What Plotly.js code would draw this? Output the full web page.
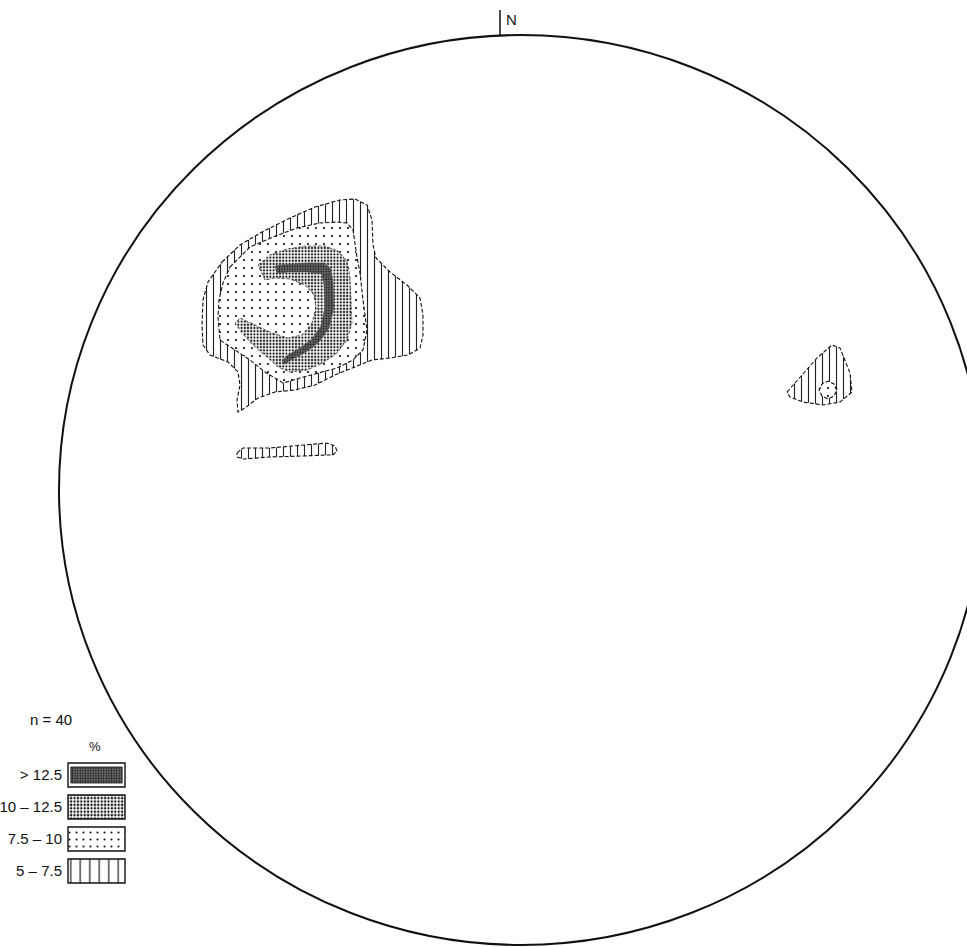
<!DOCTYPE html>
<html><head><meta charset="utf-8">
<script src="https://cdn.plot.ly/plotly-3.0.1.min.js"></script>
<style>html,body{margin:0;padding:0;background:#fff}#chart{width:967px;height:947px}</style>
</head><body><div id="chart"></div>
<script>
// Net coordinates: origin at the centre of the net, x to the east, y to the north
const sampleCount = 40;
const classLabels = ['> 12.5', '10 – 12.5', '7.5 – 10', '5 – 7.5'];

// 5 – 7.5 % contours
const zone5Main = [[-299,228],[-281,245],[-259,258],[-231,272],[-206,283],[-181,290],[-166,291],[-154,285],[-149,270],[-148,245],[-145,232],[-131,218],[-114,205],[-101,192],[-98,175],[-98,155],[-101,142],[-113,135],[-131,132],[-149,130],[-166,123],[-186,115],[-206,105],[-226,100],[-246,98],[-263,92],[-276,82],[-283,78],[-284,90],[-281,105],[-283,118],[-293,128],[-311,135],[-318,145],[-319,165],[-318,190],[-313,208]];
const zone5Blob = [[-284,37],[-278,42],[-251,42],[-218,45],[-194,47],[-186,44],[-184,39],[-188,35],[-194,35],[-218,34],[-251,33],[-278,31],[-284,33]];
const zone5East = [[266,98],[279,113],[296,132],[311,145],[319,142],[329,117],[331,98],[319,88],[302,85],[282,88],[269,93]];
// 7.5 – 10 % contours
const zone75Main = [[-291,223],[-271,243],[-248,253],[-224,262],[-201,267],[-184,268],[-174,267],[-168,260],[-164,233],[-161,217],[-158,190],[-154,160],[-158,140],[-168,130],[-184,122],[-204,117],[-221,112],[-238,107],[-256,118],[-271,130],[-286,140],[-301,150],[-303,173],[-302,190],[-298,207]];
const zone75East = [[316,100],[313,106],[307,109],[301,106],[298,100],[301,94],[307,91],[313,94]];
// 10 – 12.5 % contour
const zone10Main = [[-263,225],[-251,235],[-234,241],[-214,244],[-196,244],[-183,239],[-174,229],[-171,213],[-170,190],[-169,167],[-174,150],[-184,137],[-198,127],[-214,120],[-231,118],[-243,123],[-254,133],[-268,145],[-279,157],[-286,167],[-281,172],[-266,165],[-249,157],[-233,152],[-219,155],[-209,167],[-205,182],[-207,195],[-216,205],[-231,211],[-246,212],[-256,210]];
// > 12.5 % contour
const zone125Main = [[-246,224],[-231,226],[-214,227],[-197,227],[-190,221],[-188,207],[-187,183],[-192,162],[-202,148],[-215,138],[-228,131],[-236,126],[-239,129],[-233,135],[-221,142],[-209,151],[-200,164],[-196,183],[-197,205],[-199,216],[-214,218],[-231,218],[-244,217]];

const FONT = 'Liberation Sans, Arial, sans-serif';
const styles = {
  z5:   {shape:'|', size:7,   solidity:0.16, fg:'#222', bg:'#ffffff', line:{color:'#111', width:1.1, dash:'4px,2px'}},
  z75:  {shape:'.', size:8,   solidity:0.06, fg:'#111', bg:'#ffffff', line:{color:'#111', width:1.1, dash:'4px,2px'}},
  z10:  {shape:'.', size:3.2, solidity:0.38, fg:'#1a1a1a', bg:'#ffffff', line:{color:'#333', width:0.8, dash:'3px,2px'}},
  z125: {shape:'.', size:2.6, solidity:0.45, fg:'#1a1a1a', bg:'#7a7a7a', line:{color:'#555', width:0.6}}
};

function poly(pts, st) {
  const closed = pts.concat([pts[0]]);
  return {
    type:'scatter', mode:'lines', xaxis:'x', yaxis:'y',
    x: closed.map(p => p[0]), y: closed.map(p => p[1]),
    fill:'toself', fillcolor: st.bg,
    fillpattern:{shape:st.shape, size:st.size, solidity:st.solidity, fgcolor:st.fg, bgcolor:st.bg, fillmode:'replace'},
    line: st.line, hoverinfo:'skip', showlegend:false
  };
}

function legendBar(label, st, inset) {
  return {
    type:'bar', orientation:'h', xaxis:'x2', yaxis:'y2',
    y:[label], x:[inset ? 0.9 : 1], base:[inset ? 0.05 : 0], width:[inset ? 0.5 : 0.75],
    marker:{color:st.bg, line:{color:'#111', width: inset ? 0.8 : 1.4},
            pattern:{shape:st.shape, size:st.legendSize, solidity:st.legendSolidity, fgcolor:st.fg, bgcolor:st.bg, fillmode:'replace'}},
    hoverinfo:'skip', showlegend:false
  };
}
styles.z125.legendSize = 2.6; styles.z125.legendSolidity = 0.45;
styles.z10.legendSize = 3.4;  styles.z10.legendSolidity = 0.4;
styles.z75.legendSize = 7;    styles.z75.legendSolidity = 0.07;
styles.z5.legendSize = 9.5;   styles.z5.legendSolidity = 0.13;

const traces = [
  poly(zone5Main, styles.z5),
  poly(zone5Blob, styles.z5),
  poly(zone5East, styles.z5),
  poly(zone75Main, styles.z75),
  poly(zone75East, styles.z75),
  poly(zone10Main, styles.z10),
  poly(zone125Main, styles.z125),
  legendBar(classLabels[0], styles.z125, true),
  legendBar(classLabels[1], styles.z10, false),
  legendBar(classLabels[2], styles.z75, false),
  legendBar(classLabels[3], styles.z5, false)
];

const layout = {
  width:967, height:947, margin:{l:0, r:0, t:0, b:0},
  paper_bgcolor:'#ffffff', plot_bgcolor:'rgba(0,0,0,0)',
  showlegend:false, barmode:'overlay', bargap:0.25,
  font:{family:FONT, color:'#111'},
  xaxis:{domain:[0,1], range:[-521, 446], visible:false, fixedrange:true},
  yaxis:{domain:[0,1], range:[-457, 490], visible:false, fixedrange:true},
  xaxis2:{domain:[0.06825, 0.13133], anchor:'y2', range:[-0.035, 1.035], visible:false, fixedrange:true},
  yaxis2:{domain:[0.0634, 0.1985], anchor:'x2', type:'category', categoryorder:'array', categoryarray:classLabels,
          autorange:'reversed', showgrid:false, zeroline:false, showline:false, ticks:'',
          tickfont:{family:FONT, size:15, color:'#111'}, ticklabelstandoff:3, fixedrange:true},
  shapes:[
    {type:'circle', xref:'x', yref:'y', x0:-462, x1:462, y0:-455, y1:455, line:{color:'#111', width:2}},
    {type:'line', xref:'x', yref:'y', x0:-21, x1:-21, y0:455, y1:480, line:{color:'#111', width:1.5}},
    {type:'rect', xref:'x2', yref:'y2', x0:0, x1:1, y0:-0.375, y1:0.375, line:{color:'#111', width:1.4}}
  ],
  annotations:[
    {xref:'x', yref:'y', x:-10, y:471, text:'N', showarrow:false, font:{family:FONT, size:15, color:'#111'}},
    {xref:'x', yref:'y', x:-470, y:-229, text:'n = ' + sampleCount, showarrow:false, font:{family:FONT, size:15, color:'#111'}},
    {xref:'x', yref:'y', x:-426, y:-256, text:'%', showarrow:false, font:{family:FONT, size:13, color:'#111'}}
  ]
};

Plotly.newPlot('chart', traces, layout, {staticPlot:true, displayModeBar:false});
</script>
</body></html>
